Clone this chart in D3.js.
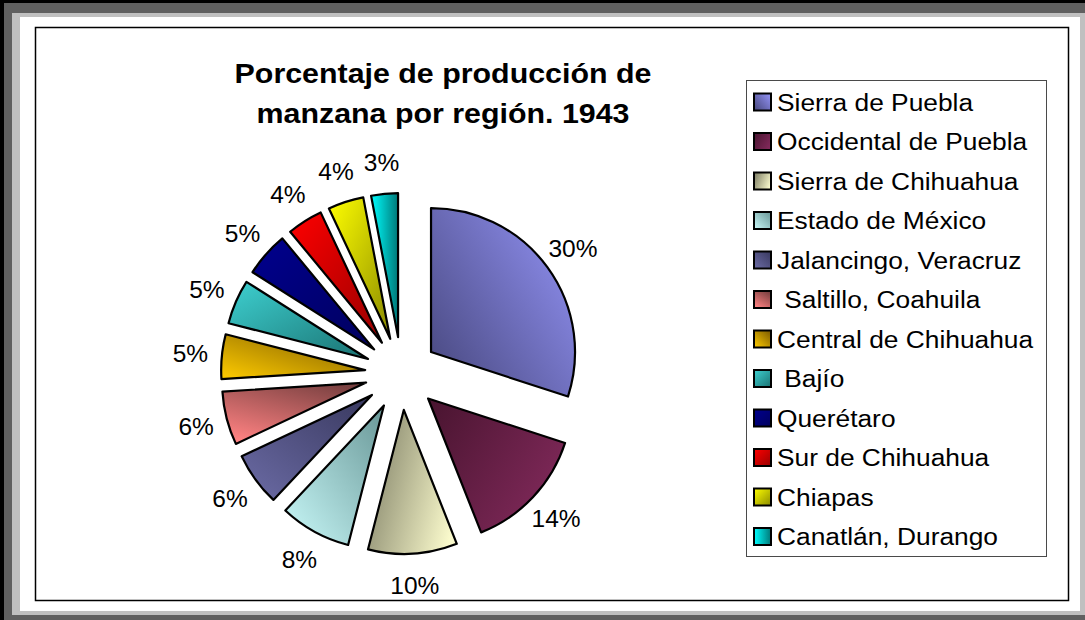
<!DOCTYPE html>
<html>
<head>
<meta charset="utf-8">
<script src="https://cdn.jsdelivr.net/npm/d3@7"></script>
<style>
  body { margin: 0; background: #fff; }
  svg { display: block; font-family: "Liberation Sans", Arial, sans-serif; }
</style>
</head>
<body>
<div id="area"></div>
<script>
// data
var regions = ["Sierra de Puebla", "Occidental de Puebla", "Sierra de Chihuahua", "Estado de México",
    "Jalancingo, Veracruz", " Saltillo, Coahuila", "Central de Chihuahua", " Bajío", "Querétaro",
    "Sur de Chihuahua", "Chiapas", "Canatlán, Durango"];
var shares = [30, 14, 10, 8, 6, 6, 5, 5, 5, 4, 4, 3];
var titleLines = ["Porcentaje de producción de", "manzana por región. 1943"];

// fill styles: light and dark end of each gradient, plus its direction (dark -> light)
var lightCols = ["#8e8eee", "#7e2858", "#fafacc", "#cafafa", "#6c6ca6", "#ff8282", "#ffcc00", "#3ed0d0", "#00008e", "#ff0000", "#ffff00", "#00ffff"];
var darkCols  = ["#45457a", "#48142f", "#84846a", "#689696", "#38385e", "#784040", "#7a5800", "#1a7272", "#00005e", "#980000", "#8a8a00", "#007878"];
var gradDirs  = [[0, 1, 1, 0.2], [0, 0, 1, 0.6], [0, 0.3, 1, 0.7], [1, 0, 0, 1], [1, 0, 0, 1], [0.8, 0, 0.2, 1],
    [1, 0, 0, 1], [1, 1, 0, 0], [1, 1, 0, 0], [1, 1, 0, 0], [1, 1, 0, 0], [1, 0.5, 0, 0.5]];

var W = 1085, H = 620;
var svg = d3.select("#area").append("svg").attr("width", W).attr("height", H);

// chart frame
svg.append("rect").attr("width", W).attr("height", H).attr("fill", "#000");
svg.append("rect").attr("x", 4).attr("y", 3).attr("width", W - 4).attr("height", H - 3).attr("fill", "#606060");
svg.append("rect").attr("x", 12).attr("y", 13).attr("width", W - 12).attr("height", 602).attr("fill", "#c0c0c0");
svg.append("rect").attr("x", 20).attr("y", 17).attr("width", 1060).attr("height", 594).attr("fill", "#fff");
svg.append("rect").attr("x", 35.5).attr("y", 27.5).attr("width", 1033).attr("height", 573)
    .attr("fill", "#fff").attr("stroke", "#000").attr("stroke-width", 1.5);

var defs = svg.append("defs");
regions.forEach(function (r, i) {
    var d = gradDirs[i];
    var g = defs.append("linearGradient").attr("id", "g" + i)
        .attr("x1", d[0]).attr("y1", d[1]).attr("x2", d[2]).attr("y2", d[3]);
    g.append("stop").attr("offset", "0%").attr("stop-color", darkCols[i]);
    g.append("stop").attr("offset", "100%").attr("stop-color", lightCols[i]);
});

// stretched text helper
function label(sel, x, y, txt, size, sx, weight, anchor) {
    return sel.append("text")
        .attr("transform", "translate(" + x + "," + y + ") scale(" + sx + ",1)")
        .attr("text-anchor", anchor || "start")
        .attr("font-size", size)
        .attr("font-weight", weight || "normal")
        .attr("fill", "#000")
        .style("white-space", "pre")
        .text(txt);
}

// title
titleLines.forEach(function (t, i) {
    label(svg, 443, 83 + i * 39.5, t, 28, 1.085, "bold", "middle");
});

// pie
var cx = 401.5, cy = 373.5, R = 144, explode = 36.5;
var pie = d3.pie().sort(null).value(function (d) { return d; });
var arcs = pie(shares);
var arc = d3.arc().innerRadius(0).outerRadius(R);
var labelArc = d3.arc().innerRadius(212).outerRadius(212);

var gPie = svg.append("g").attr("transform", "translate(" + cx + "," + cy + ")");
gPie.selectAll("path.slice")
    .data(arcs)
    .enter().append("path")
    .attr("class", "slice")
    .attr("d", arc)
    .attr("transform", function (d) {
        var a = (d.startAngle + d.endAngle) / 2;
        return "translate(" + (Math.sin(a) * explode) + "," + (-Math.cos(a) * explode) + ")";
    })
    .attr("fill", function (d, i) { return "url(#g" + i + ")"; })
    .attr("stroke", "#000")
    .attr("stroke-width", 2.2)
    .attr("stroke-linejoin", "round");

arcs.forEach(function (d) {
    var p = labelArc.centroid(d);
    label(gPie, p[0], p[1] + 8.5, d.data + "%", 24.5, 1.0, "normal", "middle");
});

// legend
var legend = svg.append("g");
legend.append("rect").attr("x", 746.5).attr("y", 80.5).attr("width", 300).attr("height", 476)
    .attr("fill", "#fff").attr("stroke", "#4a4a4a").attr("stroke-width", 1);
var ly = d3.scalePoint().domain(regions).range([102, 536.5]);
regions.forEach(function (r, i) {
    var y = ly(r);
    legend.append("rect").attr("x", 754).attr("y", y - 8.5).attr("width", 17).attr("height", 17)
        .attr("fill", "url(#g" + i + ")").attr("stroke", "#000").attr("stroke-width", 2);
    label(legend, 777, y + 8.5, r, 24.5, 1.075);
});
</script>
</body>
</html>
